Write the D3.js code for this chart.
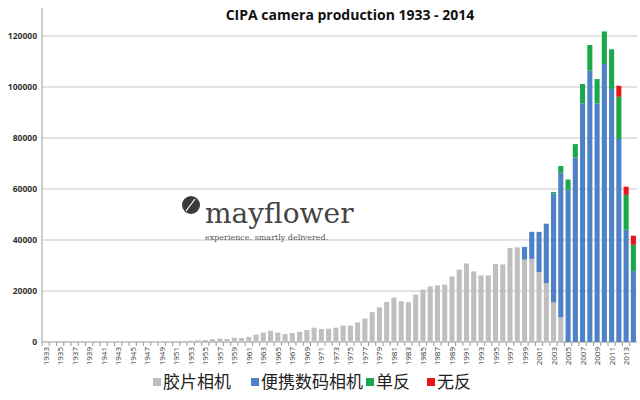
<!DOCTYPE html>
<html><head><meta charset="utf-8">
<script src="https://cdn.jsdelivr.net/npm/d3@7"></script>
<style>body{margin:0;background:#fff;font-family:"Open Sans","DejaVu Sans",sans-serif}</style>
</head><body><svg id="c" width="640" height="400"></svg>
<script>
var years = d3.range(1933, 2015);
// thousands of units
var film = [0.1,0.1,0.1,0.2,0.2,0.2,0.2,0.2,0.1,0.1,0.1,0.1,0.1,0.1,0.1,0.1,0.1,0.2,0.2,0.3,0.5,0.7,0.8,1.1,1.3,1.2,1.7,1.5,2.0,2.9,3.7,4.4,3.7,3.1,3.5,4.0,4.7,5.6,5.1,5.2,5.6,6.4,6.4,7.7,9.2,11.7,13.6,15.7,17.4,16.0,15.6,18.6,20.6,21.8,22.2,22.5,25.7,28.4,30.8,27.7,26.1,26.1,30.6,30.4,36.9,37.1,32.3,32.6,27.4,23.1,15.5,9.7,0,0,0,0,0,0,0,0,0,0];
var compactVals = {1999:5.0,2000:10.6,2001:15.8,2002:23.3,2003:42.8,2004:56.7,2005:59.7,2006:72.4,2007:93.6,2008:106.4,2009:93.6,2010:109,2011:99.2,2012:79.6,2013:44.0,2014:27.8};
var dslrVals = {2003:0.5,2004:2.6,2005:4.0,2006:5.2,2007:7.6,2008:10.1,2009:9.5,2010:12.8,2011:15.6,2012:16.6,2013:13.7,2014:10.3};
var mirrorVals = {2012:4.3,2013:3.2,2014:3.6};
var seriesNames = ["胶片相机", "便携数码相机", "单反", "无反"];
var colors = ["#bfbfbf", "#4f81c8", "#1aa84a", "#e8161b"];
var yTicks = [0,20000,40000,60000,80000,100000,120000];

var rows = years.map(function(y, i){
  return {year:y, s0:film[i]*1000, s1:(compactVals[y]||0)*1000, s2:(dslrVals[y]||0)*1000, s3:(mirrorVals[y]||0)*1000};
});
var stack = d3.stack().keys(["s0","s1","s2","s3"])(rows);

var svg = d3.select("#c");
var m = {l:42, r:637, t:28, b:342};
var x = d3.scaleBand().domain(years).range([m.l, m.r]).paddingInner(0.3).paddingOuter(0.15);
var y = d3.scaleLinear().domain([0,120000]).range([m.b, 36]);

svg.append("g").selectAll("line").data(yTicks).enter().append("line")
  .attr("x1", m.l).attr("x2", m.r).attr("y1", d=>y(d)).attr("y2", d=>y(d))
  .attr("stroke", d=>d===0?"#999":"#c8c8c8").attr("stroke-width",1.2);
svg.append("line").attr("x1",m.l).attr("x2",m.l).attr("y1",m.t-20).attr("y2",m.b).attr("stroke","#999");
svg.append("g").selectAll("text").data(yTicks).enter().append("text")
  .attr("x", m.l-5).attr("y", d=>y(d)+3).attr("text-anchor","end")
  .attr("font-size",8.5).attr("font-weight","bold").attr("fill","#333").text(d=>d);

svg.append("g").selectAll("g").data(stack).enter().append("g")
  .attr("fill", (d,i)=>colors[i])
  .selectAll("rect").data(d=>d).enter().append("rect")
  .attr("x", d=>x(d.data.year)).attr("width", x.bandwidth())
  .attr("y", d=>y(d[1])).attr("height", d=>y(d[0])-y(d[1]));

// ticks and labels
svg.append("g").selectAll("line").data(years).enter().append("line")
  .attr("x1", d=>x(d)-x.step()*0.15).attr("x2", d=>x(d)-x.step()*0.15)
  .attr("y1", m.b).attr("y2", m.b+4).attr("stroke","#999");
svg.append("g").selectAll("text").data(years.filter(d=>d%2===1)).enter().append("text")
  .attr("transform", d=>"translate("+(x(d)+x.bandwidth()/2+3)+","+(m.b+5)+") rotate(-90)")
  .attr("text-anchor","end").attr("font-size",8).attr("fill","#333").text(d=>d);

svg.append("text").attr("x",350).attr("y",20).attr("text-anchor","middle")
  .attr("font-size",14).attr("font-weight","bold").attr("fill","#111")
  .text("CIPA  camera production 1933 - 2014");

// logo
var lg = svg.append("g");
lg.append("circle").attr("cx",191).attr("cy",205).attr("r",9).attr("fill","#3a3a3a");
lg.append("path").attr("d","M186,211 L195,199").attr("stroke","#fff").attr("stroke-width",1.2);
lg.append("text").attr("x",205).attr("y",223).attr("font-family","DejaVu Serif, serif")
  .attr("font-size",28).attr("fill","#444").text("mayflower");
lg.append("text").attr("x",205).attr("y",240).attr("font-family","DejaVu Serif, serif")
  .attr("font-size",8).attr("fill","#555").text("experience. smartly delivered.");

// legend
var leg = svg.append("g").attr("font-family","Noto Sans CJK SC, sans-serif");
var lx = [153, 251, 366, 427];
seriesNames.forEach(function(n,i){
  leg.append("rect").attr("x",lx[i]).attr("y",378).attr("width",8).attr("height",8).attr("fill",colors[i]);
  leg.append("text").attr("x",lx[i]+10).attr("y",388).attr("font-size",17).attr("fill","#222").text(n);
});
</script></body></html>
